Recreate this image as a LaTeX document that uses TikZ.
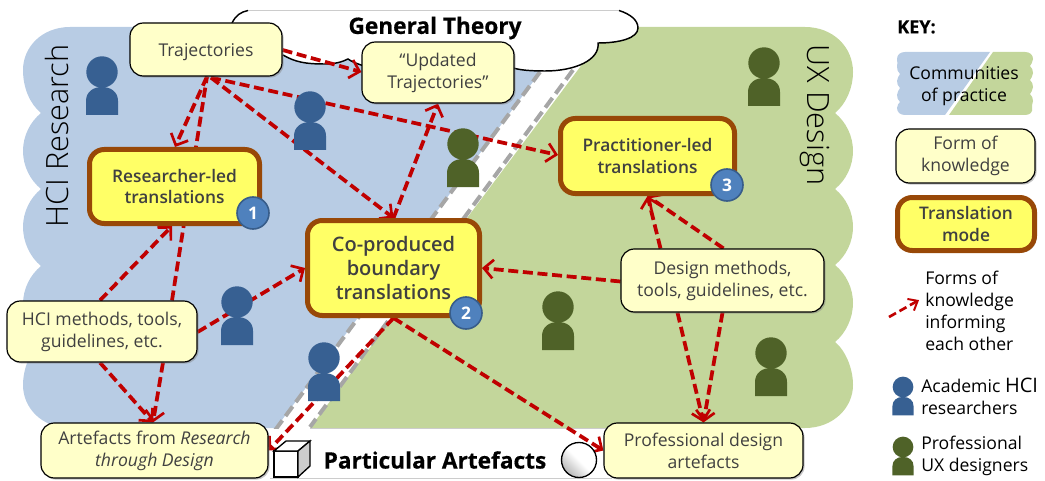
\documentclass[tikz,border=0pt]{standalone}
\usepackage{fontspec}
\setmainfont{Open Sans}
\newfontfamily\thinf{Open Sans Light}
\newfontfamily\semif{Open Sans Semibold}
\newfontfamily\heavyf[BoldFeatures={FakeBold=0.4}]{Open Sans}
\usetikzlibrary{arrows.meta,shadows,calc}
\pgfdeclarelayer{bg}\pgfdeclarelayer{arr}
\pgfsetlayers{bg,arr,main}
\definecolor{hciblue}{HTML}{B8CCE4}
\definecolor{uxgreen}{HTML}{C3D69B}
\definecolor{pblue}{HTML}{376092}
\definecolor{pgreen}{HTML}{4F6228}
\definecolor{know}{HTML}{FFFFC9}
\definecolor{trans}{HTML}{FFFF66}
\definecolor{brownb}{HTML}{984807}
\definecolor{badgef}{HTML}{4F81BD}
\definecolor{badged}{HTML}{385D8A}
\definecolor{txt}{HTML}{404040}
\definecolor{arrowred}{HTML}{C00000}
\definecolor{edgegray}{HTML}{A6A6A6}
\tikzset{
  lowered/.style={execute at begin node={\rule{0pt}{13pt}}},
  knowbox/.style={draw=black,line width=.9pt,fill=know,rounded corners=10pt,align=center,text=txt,
    inner sep=0pt,font=\fontsize{13.2}{16.5}\selectfont,lowered,
    drop shadow={shadow xshift=1.2pt,shadow yshift=-1.2pt,opacity=.45}},
  transbox/.style={draw=brownb,line width=3.75pt,fill=trans,rounded corners=11pt,align=center,text=txt,
    inner sep=0pt,font=\semif\fontsize{13}{16.5}\selectfont,lowered,
    drop shadow={shadow xshift=1.5pt,shadow yshift=-1.5pt,opacity=.45}},
  badge/.style={circle,draw=badged,line width=1.2pt,fill=badgef,text=white,minimum size=24pt,inner sep=0pt,
    font=\bfseries\fontsize{13}{13}\selectfont},
  link/.style={draw=arrowred,line width=2.8pt,dash pattern=on 7.5pt off 3.5pt},
  flow/.style={link,-{Straight Barb[length=7pt,width=14pt,line width=2pt]}},
  plain/.style={text=black,align=left,inner sep=0pt,font=\fontsize{13.2}{16.5}\selectfont},
  edgedash/.style={draw=edgegray,line width=3pt,dash pattern=on 9pt off 4pt},
  bandline/.style={draw=black!20,line width=.9pt},
  cloudline/.style={draw=black,line width=1.1pt},
}
% person: #1 colour, #2 head x, #3 head y, #4 scale
\newcommand{\person}[4]{%
  \fill[#1] (#2,#3) circle[radius=#4*15.7];
  \fill[#1] ({#2-#4*16},{#3+#4*43}) -- ({#2-#4*16},{#3+#4*29})
     .. controls ({#2-#4*16},{#3+#4*20}) and ({#2-#4*9},{#3+#4*15}) .. ({#2},{#3+#4*15})
     .. controls ({#2+#4*9},{#3+#4*15}) and ({#2+#4*16},{#3+#4*20}) .. ({#2+#4*16},{#3+#4*29})
     -- ({#2+#4*16},{#3+#4*43}) -- cycle;}
\begin{document}
\begin{tikzpicture}[x=.75pt,y=-.75pt]
\useasboundingbox (0,0) rectangle (1045,481);
\begin{pgfonlayer}{bg}
% HCI community
\fill[hciblue] (70,27)
  .. controls (42,27) and (23,47) .. (23,70) .. controls (23,88) and (30,104) .. (41,113)
  .. controls (30,122) and (23,136) .. (23,151) .. controls (23,166) and (30,180) .. (41,189)
  .. controls (30,198) and (23,212) .. (23,227) .. controls (23,242) and (30,257) .. (41,266)
  .. controls (30,275) and (23,289) .. (23,304) .. controls (23,319) and (30,333) .. (41,342)
  .. controls (30,351) and (23,369) .. (23,385) .. controls (23,408) and (42,428) .. (70,428)
  -- (276,428) -- (570,32) -- (570,27) -- cycle;
% UX community
\fill[uxgreen] (805,27)
  .. controls (833,27) and (853,47) .. (853,72) .. controls (853,88) and (846,104) .. (835,113)
  .. controls (846,122) and (853,136) .. (853,151) .. controls (853,166) and (846,180) .. (835,189)
  .. controls (846,198) and (853,212) .. (853,227) .. controls (853,242) and (846,256) .. (835,265)
  .. controls (846,274) and (853,288) .. (853,303) .. controls (853,318) and (846,333) .. (835,342)
  .. controls (846,351) and (853,369) .. (853,385) .. controls (853,408) and (833,428) .. (805,428)
  -- (310,428) -- (610,27) -- cycle;
\draw[edgedash] (540,72) -- (273,433);
\draw[edgedash] (573,70) -- (310,427);
% particular artefacts band
\fill[white] (270,429) rectangle (612,478);
\draw[bandline] (310,428.5) -- (612,428.5);
\draw[bandline] (270,478.5) -- (612,478.5);
% cloud
\fill[white] (232,22) .. controls (236,15) and (243,11) .. (250,10) -- (618,10)
  .. controls (630,14) and (638,20) .. (638,28) .. controls (638,38) and (620,43) .. (598,43)
  .. controls (600,60) and (575,71) .. (545,71) .. controls (530,71) and (520,70) .. (510,68)
  -- (362,66) .. controls (358,64) and (352,62) .. (348,59)
  .. controls (342,62) and (335,64) .. (325,64) .. controls (305,64) and (295,62) .. (283,55)
  -- (232,40) -- cycle;
\draw[bandline] (248,10.5) -- (619,10.5);
\draw[cloudline] (232,23) .. controls (236,15) and (241,12) .. (248,10.5);
\draw[cloudline] (619,10.5) .. controls (630,14) and (638,20) .. (638,28) .. controls (638,38) and (620,43) .. (598,43)
  .. controls (600,60) and (575,71) .. (545,71) .. controls (530,71) and (520,70) .. (513,68);
\draw[cloudline] (283,55) .. controls (295,62) and (305,64) .. (325,64) .. controls (335,64) and (342,62) .. (348,59)
  .. controls (352,62) and (358,64) .. (364,66);
\end{pgfonlayer}
% community labels
\node[rotate=90,font=\thinf\fontsize{23}{23}\selectfont,text=black,inner sep=0pt] (hcilabel) at (57,136) {HCI Research};
\node[rotate=-90,font=\thinf\fontsize{23}{23}\selectfont,text=black,inner sep=0pt] (uxlabel) at (815,115) {UX Design};
% cloud / band titles
\node[font=\heavyf\bfseries\fontsize{17}{17}\selectfont,text=black,inner sep=0pt] (gt) at (435,28) {General Theory};
\node[font=\heavyf\bfseries\fontsize{17}{17}\selectfont,text=black,inner sep=0pt] (pa) at (435,460) {Particular Artefacts};
% cube
\draw[draw=black,line width=1pt,fill=white] (274,451) rectangle (298,477);
\draw[draw=black,line width=1pt,fill=white] (274,451) -- (286,441) -- (310,441) -- (298,451) -- cycle;
\draw[draw=black,line width=1pt,fill=black!20] (298,451) -- (310,441) -- (310,466) -- (298,477) -- cycle;
% sphere
\shade[top color=white,bottom color=black!28,middle color=white,shading angle=-45] (579,460) circle[radius=17.5];
\draw[line width=1pt,black] (579,460) circle[radius=17.5];
% knowledge forms
\node[knowbox,minimum width=114pt,minimum height=39.75pt] (tr) at (206,49.5) {Trajectories};
\node[knowbox,minimum width=114pt,minimum height=45.75pt] (up) at (438,72.5) {“Updated\\Trajectories”};
\node[knowbox,minimum width=142.5pt,minimum height=45.75pt] (hm) at (102,331.5) {HCI methods, tools,\\guidelines, etc.};
\node[knowbox,minimum width=152.25pt,minimum height=47.25pt] (dm) at (722.5,280.5) {Design methods,\\tools, guidelines, etc.};
\node[knowbox,minimum width=170.25pt,minimum height=41.25pt] (ar) at (154.5,450.5) {Artefacts from \textit{Research}\\\textit{through Design}};
\node[knowbox,minimum width=149.25pt,minimum height=41.25pt] (pr) at (703.5,450.5) {Professional design\\artefacts};
% translation modes
\node[transbox,minimum width=127.5pt,minimum height=55.5pt] (rl) at (174.5,186.5) {Researcher-led\\translations};
\node[transbox,minimum width=129pt,minimum height=71.25pt,font=\semif\fontsize{15}{18}\selectfont] (co) at (393.5,268) {Co-produced\\boundary\\translations};
\node[transbox,minimum width=130.5pt,minimum height=56.25pt] (pl) at (647.5,156) {Practitioner-led\\translations};
\node[badge] (b1) at (253,213) {1};
\node[badge] (b2) at (466,313) {2};
\node[badge] (b3) at (727,185) {3};
% connectors
\begin{pgfonlayer}{arr}
\draw[flow] ($(tr.east)+(0,0.5)$) -- ($(up.west)+(0,-0.5)$);
\draw[flow] ($(tr.south)+(1,0)$) -- ($(rl.north)+(0.5,0)$);
\draw[link] ($(hm.north)+(70,0)$) -- ($(tr.south)+(1,0)$);
\draw[flow] ($(hm.north)+(-2,0)$) -- ($(rl.south)+(-2.5,0)$);
\draw[flow] ($(tr.south)+(5,1)$) -- ($(pl.west)+(0,-1)$);
\draw[flow] ($(tr.south)+(5,1)$) -- (co.north);
\draw[flow] (co.north) -- (up.south);
\draw[flow] ($(hm.east)+(0,0.5)$) -- ($(co.west)$);
\draw[flow] ($(hm.south)+(61,0)$) -- ($(ar.north)+(-1.5,0)$);
\draw[flow] ($(hm.south)+(-2,0)$) -- ($(ar.north)+(-1.5,0)$);
\draw[flow] (co.south) -- ($(ar.east)+(0,0)$);
\draw[flow] (co.south) -- ($(pr.west)+(0,0)$);
\draw[flow] ($(dm.west)+(0,1)$) -- ($(co.east)$);
\draw[flow] ($(dm.north)+(-62,0)$) -- (pl.south);
\draw[flow] ($(dm.north)+(1,0)$) -- (pl.south);
\draw[flow] ($(dm.south)+(-45,0)$) -- (pr.north);
\draw[flow] ($(dm.south)+(0,0)$) -- (pr.north);
\end{pgfonlayer}
% people
\person{pblue}{102}{72}{1}
\person{pblue}{310}{107}{1}
\person{pblue}{237}{302}{1}
\person{pblue}{324}{358}{1}
\person{pgreen}{463}{144}{1}
\person{pgreen}{764}{63}{1}
\person{pgreen}{558}{307}{1}
\person{pgreen}{771}{353}{1}
% key
\node[anchor=west,font=\heavyf\bfseries\fontsize{13.5}{13.5}\selectfont,text=black,inner sep=0pt] (key) at (897,27) {KEY:};
\fill[hciblue] (905,52) -- (990,52) -- (945,115) -- (905,115)
  .. controls (900,115) and (897,112) .. (897,108)
  .. controls (897,105) and (899,103) .. (900,102) .. controls (898,100) and (897,98) .. (897,95)
  .. controls (897,92) and (899,90) .. (900,88) .. controls (898,86) and (897,84) .. (897,81)
  .. controls (897,78) and (899,76) .. (900,74) .. controls (898,72) and (897,70) .. (897,67)
  .. controls (897,64) and (898,62) .. (897,59) .. controls (897,55) and (900,52) .. (905,52) -- cycle;
\fill[uxgreen] (993,52) -- (1025,52)
  .. controls (1030,52) and (1033,55) .. (1033,59)
  .. controls (1033,62) and (1031,64) .. (1030,66) .. controls (1032,68) and (1033,70) .. (1033,73)
  .. controls (1033,76) and (1031,78) .. (1030,80) .. controls (1032,82) and (1033,84) .. (1033,87)
  .. controls (1033,90) and (1031,92) .. (1030,94) .. controls (1032,96) and (1033,98) .. (1033,101)
  .. controls (1033,104) and (1031,106) .. (1032,108) .. controls (1033,112) and (1030,115) .. (1025,115)
  -- (949,115) -- cycle;
\node[plain,align=center] (kc) at (964,86) {Communities\\of practice};
\node[knowbox,minimum width=104.25pt,minimum height=40.5pt] (kf) at (965.5,156) {Form of\\knowledge};
\node[transbox,minimum width=102.75pt,minimum height=39.75pt] (kt) at (966,224) {Translation\\mode};
\coordinate (ka) at (889,317);
\node[plain,anchor=north west] (kn) at (925,271) {Forms of\\knowledge\\informing\\each other};
\draw[link,line width=2pt,dash pattern=on 6pt off 3pt,-{Straight Barb[length=6pt,width=10pt,line width=1.5pt]}] (ka) -- ($(kn.west)+(-6,-11)$);
\person{pblue}{903}{387}{.66}
\node[plain,anchor=north west] (ka2) at (921,378) {Academic {\fontsize{15}{16}\selectfont HCI}\\researchers};
\person{pgreen}{903}{447}{.66}
\node[plain,anchor=north west] (kp) at (921,436) {Professional\\UX designers};
\end{tikzpicture}
\end{document}
